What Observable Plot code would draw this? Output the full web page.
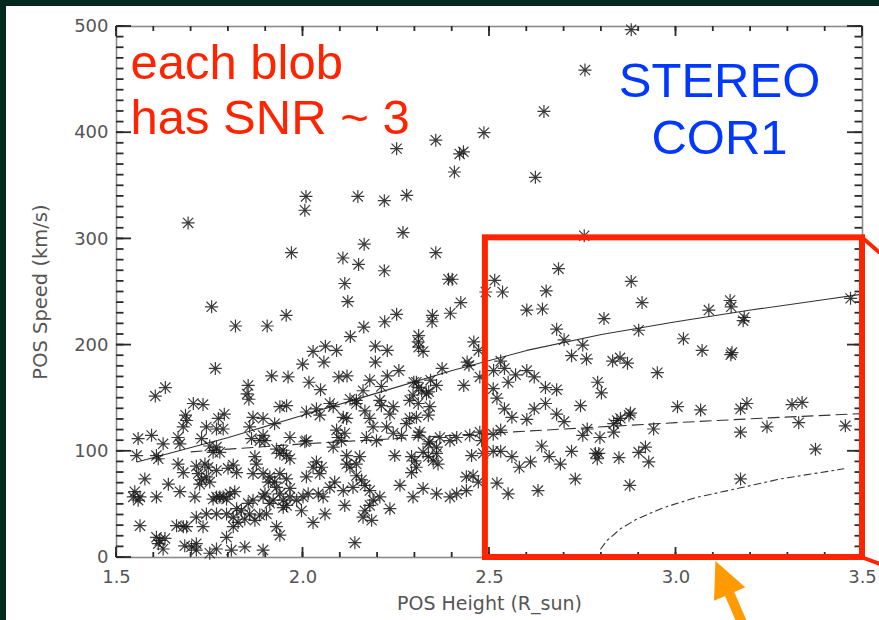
<!DOCTYPE html>
<html>
<head>
<meta charset="utf-8">
<script src="https://cdn.jsdelivr.net/npm/d3@7"></script>
<script src="https://cdn.jsdelivr.net/npm/@observablehq/plot@0.6"></script>
<style>
  html, body { margin: 0; padding: 0; }
  body { width: 879px; height: 620px; background: #03291e; position: relative; overflow: hidden; }
  #panel { position: absolute; left: 6px; top: 6px; width: 873px; height: 614px; background: #ffffff; }
  #chart { position: absolute; left: 0; top: 0; }
</style>
</head>
<body>
<div id="panel"></div>
<div id="chart"></div>
<script>
// ---- data: blob POS heights (R_sun) and POS speeds (km/s) ----
const heights = [
2.88,2.756,2.646,2.485,2.356,2.251,2.42,2.43,2.406,2.623,2.008,2.005,2.147,2.218,2.278,2.268,2.164,2.107,2.149,2.218,
2.356,2.112,2.12,2.39,2.40,2.423,2.395,2.251,2.347,2.754,2.685,2.514,2.49,2.535,2.652,2.60,2.642,2.88,2.909,3.088,
3.145,3.148,3.183,3.468,2.807,1.692,1.969,1.755,1.819,1.904,1.955,1.765,1.604,1.631,1.853,1.85,1.855,1.916,1.96,1.999,
2.027,2.056,2.06,2.09,2.016,2.047,2.127,2.163,2.194,2.226,2.194,2.219,2.31,2.31,2.322,2.346,2.458,2.471,2.44,2.445,
2.373,2.342,2.431,2.257,2.226,2.118,2.096,2.297,2.31,2.337,2.511,2.309,2.51,2.474,2.179,2.21,2.161,2.304,2.318,2.358,
1.706,1.732,1.685,1.688,1.679,1.789,1.773,1.741,1.768,1.786,1.728,1.75,1.768,1.759,1.777,1.866,1.893,1.857,1.862,1.924,
1.938,1.956,1.893,1.898,1.884,1.965,1.929,1.947,1.938,1.956,1.965,1.871,1.875,1.866,1.893,1.911,1.938,1.956,1.907,1.924,
2.009,2.005,2.009,1.965,2.0,2.014,1.938,1.947,1.956,1.996,2.027,2.059,2.05,2.036,2.054,2.041,2.09,2.094,2.103,2.108,
2.117,2.009,2.036,2.045,2.072,2.081,2.143,2.166,2.126,2.143,2.206,2.21,2.242,2.233,2.179,2.188,2.224,2.242,2.264,2.277,
2.286,2.286,2.295,2.309,2.331,2.34,2.336,2.304,2.197,2.17,2.117,2.152,2.143,2.246,2.291,2.3,2.304,2.291,2.322,2.336,
2.349,2.358,2.362,2.336,2.34,2.358,2.309,2.313,2.367,2.394,2.412,2.447,2.474,2.479,2.452,2.483,2.438,2.456,2.47,2.438,
2.412,2.394,2.358,2.322,2.295,2.26,2.233,2.206,2.188,2.179,2.184,2.166,2.161,2.143,2.157,2.166,2.134,2.179,2.108,2.112,
2.085,2.072,2.139,2.027,2.045,2.112,2.081,2.126,2.117,1.737,1.728,1.719,1.741,1.723,1.75,1.714,1.746,1.768,1.799,1.813,
1.822,1.759,1.768,1.777,1.786,1.795,1.804,1.817,1.71,1.665,1.679,1.639,1.67,1.607,1.576,1.549,1.558,1.563,1.545,1.554,
1.558,1.594,1.607,1.612,1.625,1.67,1.665,1.563,1.607,1.616,1.63,1.625,1.612,1.661,1.679,1.688,1.714,1.683,1.701,1.714,
1.714,1.732,1.741,1.768,1.795,1.813,1.826,1.844,1.857,1.871,1.884,1.902,1.795,1.813,1.808,1.844,1.893,1.75,1.768,1.929,
1.938,1.911,1.92,1.947,1.893,1.898,1.853,1.866,1.835,1.822,1.983,1.965,1.929,2.51,2.51,
3.004,3.066,3.173,3.19,3.311,3.338,2.762,2.796,2.833,2.842,2.833,2.851,2.878,2.874,2.94,3.173,3.244,3.329,3.454,3.374,
3.173,2.784,2.793,2.789,2.847,2.9,2.918,2.927,2.876,2.744,
2.53,2.54,2.55,2.57,2.60,2.62,2.65,2.68,2.52,2.54,2.56,2.53,2.60,2.62,2.65,2.68,2.70,2.53,2.56,2.58,
2.61,2.64,2.66,2.69,2.72,2.75,2.52,2.55,2.63,2.73,2.72,2.76,2.75,2.79,2.80,2.83,2.85,2.87,2.90,3.02,
3.07,3.147,3.15,3.18,2.95,2.68,2.70
];
const speeds = [
497,459,420,400,393,385,380,382,363,358,340,327,340,336,341,306,295,282,276,270,
287,258,241,262,262,240,230,229,228,303,272,261,250,250,251,233,234,260,240,233,
242,236,226,244,225,315,287,236,218,218,228,178,152,160,162,154,149,171,170,182,
194,184,199,195,165,158,208,217,199,195,184,222,209,198,194,222,203,195,184,181,
178,167,162,176,171,171,170,165,160,156,176,203,159,170,167,161,157,165,157,162,
145,144,134,129,123,135,131,123,121,121,112,105,104,99,99,132,131,123,112,126,
142,143,115,110,110,113,102,101,98,96,93,95,88,79,79,76,79,74,71,71,
110,109,76,65,57,60,60,47,49,44,33,41,85,90,57,60,120,113,110,132,
131,137,140,134,145,142,145,138,149,148,148,143,142,135,131,123,123,117,115,126,
131,148,153,145,154,142,134,132,110,113,96,95,88,96,95,91,85,80,99,95,
91,98,88,107,109,104,115,118,113,110,113,115,118,110,96,98,76,77,71,63,
60,57,60,65,57,68,46,57,54,49,35,44,38,77,73,68,66,63,63,49,
71,66,14,85,79,117,104,85,88,88,73,79,76,69,71,86,85,82,84,87,
80,55,57,57,57,55,60,62,57,88,80,69,62,57,74,62,54,57,57,96,
112,115,96,93,107,107,113,30,19,16,18,8,13,30,29,29,38,11,10,7,
13,29,41,41,41,38,33,36,41,35,40,41,19,29,7,10,7,4,8,29,
21,51,54,54,57,60,51,54,44,46,54,57,66,116,100,
142,139,140,145,144,146,121,113,126,129,118,131,136,134,121,118,123,127,124,102,
74,98,98,93,94,99,104,90,68,143,
185,178,165,172,176,170,160,158,150,140,132,120,130,140,145,135,128,100,95,85,
90,105,95,88,100,115,70,60,63,74,190,187,200,165,155,185,188,183,214,206,
195,191,193,223,174,215,205
];

// ---- model curves ----
const solidH = [1.555, 1.8, 2.0, 2.2, 2.4, 2.6, 2.8, 3.0, 3.2, 3.4, 3.5];
const solidV = [90, 113, 134, 155, 176, 195, 210, 222, 233, 243, 248];
const dashH = [1.70, 2.0, 2.5, 2.75, 3.0, 3.25, 3.5];
const dashV = [99.5, 107, 117, 122, 127, 131.5, 135.5];
const dashdotH = [2.798, 2.815, 2.851, 2.896, 2.967, 3.057, 3.173, 3.28, 3.45];
const dashdotV = [8, 16, 27, 36.4, 47, 56.8, 65.6, 74, 83.5];

// ---- axes ----
const xDomain = [1.5, 3.5];
const yDomain = [0, 500];
const xMajor = [1.5, 2.0, 2.5, 3.0, 3.5];
const xMinor = d3.range(15, 36).map(d => d / 10);
const yMajor = [0, 100, 200, 300, 400, 500];
const yMinor = d3.range(0, 51).map(d => d * 10);

// ---- annotations ----
const region = [{x1: 2.489, x2: 3.5, y1: 0, y2: 301}];
const calloutLines = [{x1: 3.5, y1: 301, x2: 3.546, y2: 287}, {x1: 3.5, y1: 0, x2: 3.546, y2: -6}];
const arrowTip = [3.107, -3.8];
const arrowTail = [3.192, -73];
const noteLeft = ["each blob\nhas SNR ~ 3"];
const noteRight = ["STEREO\nCOR1"];

const pts = heights.map((h, i) => ({h, v: speeds[i]}));
const solid = solidH.map((h, i) => ({h, v: solidV[i]}));
const dashed = dashH.map((h, i) => ({h, v: dashV[i]}));
const dashdot = dashdotH.map((h, i) => ({h, v: dashdotV[i]}));

const W = 879, H = 620, ML = 116, MR = 17, MT = 26, MB = 63;

const asterisk = {
  draw(ctx, size) {
    const r = Math.sqrt(size / Math.PI);
    const d = r * 0.78;
    ctx.moveTo(-r, 0); ctx.lineTo(r, 0);
    ctx.moveTo(0, -r); ctx.lineTo(0, r);
    ctx.moveTo(-d, -d); ctx.lineTo(d, d);
    ctx.moveTo(-d, d); ctx.lineTo(d, -d);
  }
};

const RED = "#ff2400", BLUE = "#0038ff", ORANGE = "#ff9a00";
const tickColor = "#2a2a2a", labColor = "#555";
const FONT = "'DejaVu Sans', Verdana, sans-serif";
const ARIAL = "'Liberation Sans', Arial, sans-serif";

const plot = Plot.plot({
  width: W, height: H,
  marginLeft: ML, marginRight: MR, marginTop: MT, marginBottom: MB,
  style: {background: "transparent", fontFamily: FONT},
  x: {domain: xDomain, axis: null},
  y: {domain: yDomain, axis: null},
  marks: [
    Plot.frame({stroke: "#8a8a8a", strokeWidth: 1.6, fill: "none"}),
    // tick labels
    Plot.axisX({ticks: xMajor, anchor: "bottom", tickSize: 0, tickPadding: 13, fontSize: 18, fill: labColor, tickFormat: d => d.toFixed(1), label: null}),
    Plot.axisY({ticks: yMajor, anchor: "left", tickSize: 0, tickPadding: 8, fontSize: 18, fill: labColor, tickFormat: d => String(d), label: null}),
    // axis titles
    Plot.text(["POS Height (R_sun)"], {frameAnchor: "bottom", dy: 46, textAnchor: "middle", lineAnchor: "middle", fontSize: 19, fill: labColor}),
    Plot.text(["POS Speed (km/s)"], {frameAnchor: "left", dx: -76, rotate: -90, textAnchor: "middle", lineAnchor: "middle", fontSize: 19.5, fill: labColor}),
    // model curves
    Plot.line(solid, {x: "h", y: "v", stroke: "#333", strokeWidth: 1.1}),
    Plot.line(dashed, {x: "h", y: "v", stroke: "#333", strokeWidth: 1.1, strokeDasharray: "11,6"}),
    Plot.line(dashdot, {x: "h", y: "v", stroke: "#333", strokeWidth: 1.1, strokeDasharray: "7,4,2,4"}),
    // blobs
    Plot.dot(pts, {x: "h", y: "v", symbol: asterisk, r: 6.5, stroke: "#1a1a1a", strokeOpacity: 0.85, strokeWidth: 1.2, fill: "none"}),
    // highlighted region & callout
    Plot.rect(region, {x1: "x1", x2: "x2", y1: "y1", y2: "y2", fill: "none", stroke: RED, strokeWidth: 6, clip: false}),
    Plot.link(calloutLines, {x1: "x1", y1: "y1", x2: "x2", y2: "y2", stroke: RED, strokeWidth: 4, clip: false}),
    // annotations
    Plot.text(noteLeft, {frameAnchor: "top-left", dx: 14, dy: 14, textAnchor: "start", lineAnchor: "top", fontSize: 49, lineHeight: 1.12, fill: RED, fontFamily: ARIAL}),
    Plot.text(noteRight, {frameAnchor: "top", dx: 230, dy: 29, textAnchor: "middle", lineAnchor: "top", fontSize: 49, lineHeight: 1.18, fill: BLUE, fontFamily: ARIAL})
  ]
});

const sx = plot.scale("x"), sy = plot.scale("y");
const svg = d3.select(plot);

// inward IDL-style ticks on all four sides, positioned through the plot's scales
const tg = svg.append("g").attr("stroke", tickColor).attr("stroke-width", 1.8);
const X0 = sx.apply(xDomain[0]), X1 = sx.apply(xDomain[1]);
const Y0 = sy.apply(yDomain[0]), Y1 = sy.apply(yDomain[1]);
function xt(ticks, L) {
  for (const t of ticks) {
    const px = sx.apply(t);
    tg.append("line").attr("x1", px).attr("x2", px).attr("y1", Y0).attr("y2", Y0 - L);
    tg.append("line").attr("x1", px).attr("x2", px).attr("y1", Y1).attr("y2", Y1 + L);
  }
}
function yt(ticks, L) {
  for (const t of ticks) {
    const py = sy.apply(t);
    tg.append("line").attr("y1", py).attr("y2", py).attr("x1", X0).attr("x2", X0 + L);
    tg.append("line").attr("y1", py).attr("y2", py).attr("x1", X1).attr("x2", X1 - L);
  }
}
xt(xMinor, 5); xt(xMajor, 10); yt(yMinor, 7.5); yt(yMajor, 15);

// re-draw the red region's right/bottom edges are already on top; keep ticks under it
svg.node().insertBefore(tg.node(), svg.node().querySelector("g[aria-label='rect']") || null);

// orange arrow placed through the plot's own scales
const T = [sx.apply(arrowTip[0]), sy.apply(arrowTip[1])];
const B = [sx.apply(arrowTail[0]), sy.apply(arrowTail[1])];
const len = Math.hypot(T[0] - B[0], T[1] - B[1]);
const u = [(T[0] - B[0]) / len, (T[1] - B[1]) / len];
const n = [-u[1], u[0]];
const headL = 36, headW = 17, shaftW = 5;
const base = [T[0] - u[0] * headL, T[1] - u[1] * headL];
const P = (p, k) => [p[0] + n[0] * k, p[1] + n[1] * k];
const poly = [T, P(base, headW), P(base, shaftW), P(B, shaftW), P(B, -shaftW), P(base, -shaftW), P(base, -headW)];
svg.append("polygon")
  .attr("points", poly.map(p => p.join(",")).join(" "))
  .attr("fill", ORANGE);

document.getElementById("chart").appendChild(plot);
</script>
</body>
</html>
